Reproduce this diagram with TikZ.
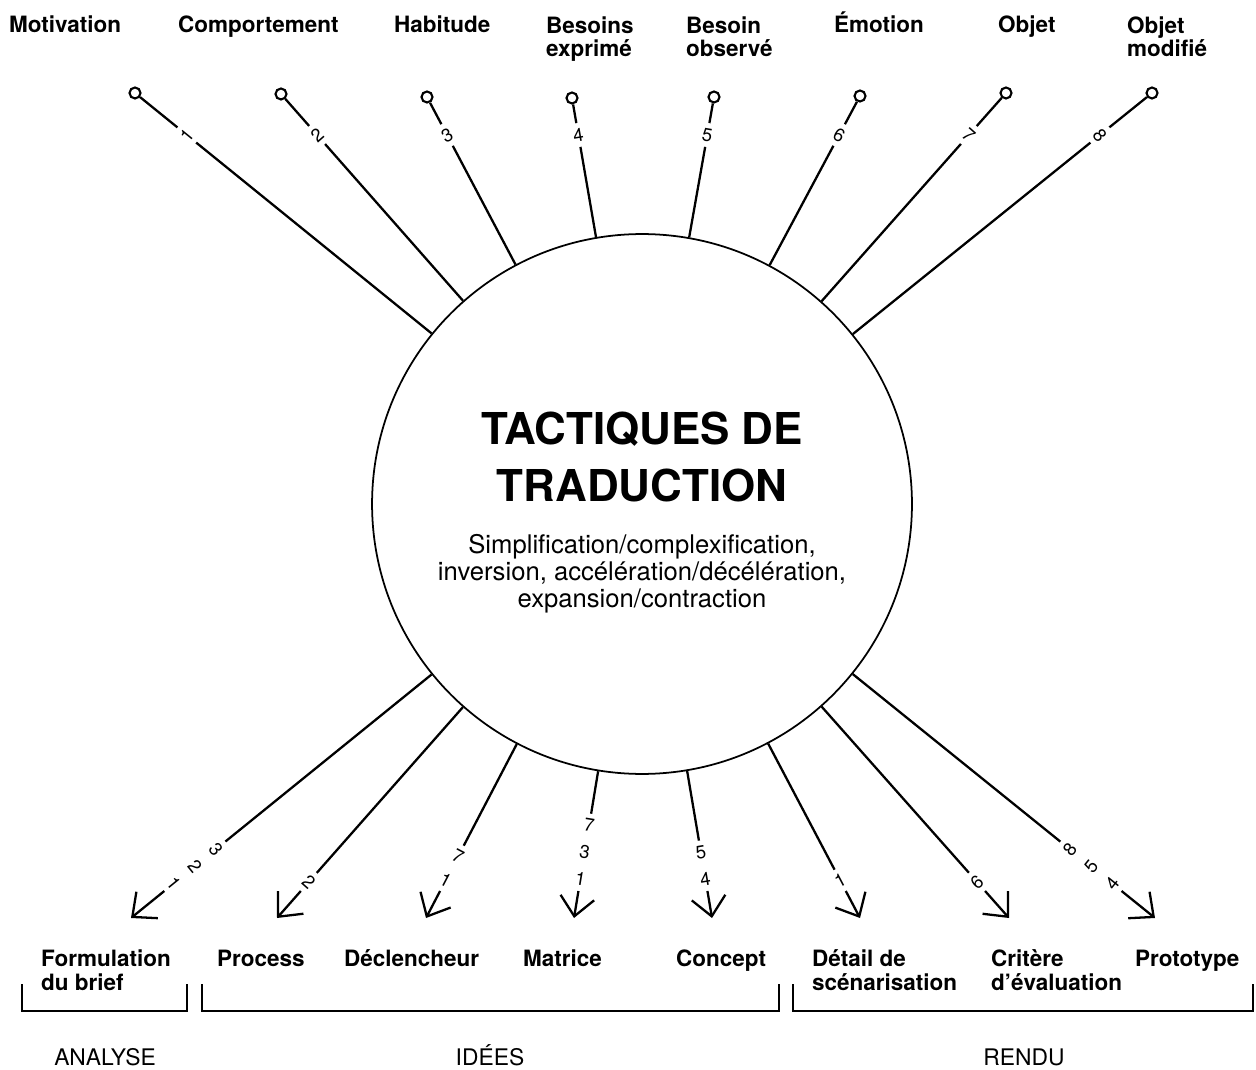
\documentclass[tikz,border=0pt]{standalone}
\usepackage{fontspec}
\setmainfont{TeX Gyre Heros}
\usetikzlibrary{arrows.meta,calc}

\begin{document}
\begin{tikzpicture}[x=0.02cm, y=-0.02cm, line width=1.3pt,
			pin/.style={circle, draw, fill=white, inner sep=0pt, minimum size=0.22cm, line width=1.2pt},
			num/.style={font=\fontsize{10.5}{15.5}\selectfont, inner sep=2.5pt, align=center},
			lab/.style={font=\fontsize{12.8}{13.6}\selectfont\bfseries, align=left, anchor=base west, inner sep=0pt},
			cat/.style={font=\fontsize{13}{15}\selectfont, anchor=base},
			arr/.style={-{Straight Barb[length=0.38cm, width=0.68cm]}}]
			\useasboundingbox (0,0) rectangle (1256,1070);
			
			\node[circle, draw, line width=1pt, minimum size=10.8cm] (tac) at (642,504) {};
			\node[font=\fontsize{25}{32}\selectfont\bfseries, align=center] (titre) at (642,457) {TACTIQUES DE\\TRADUCTION};
			\node[font=\fontsize{14.6}{15.3}\selectfont, align=center] (sous) at (642,574) {Simplification/complexification,\\inversion, accélération/décélération,\\expansion/contraction};
			
			% entrees
			\foreach \i/\px/\py/\lx/\ly/\txt in {1/135/93/8/33/Motivation, 2/281/94/177/33/Comportement, 3/427/97/393/33/Habitude, 4/572/98/545/57/{Besoins\\exprimé},
				5/714/97/685/57/{Besoin\\observé}, 6/860/96/833/33/Émotion, 7/1006/93/997/33/Objet, 8/1152/93/1126/57/{Objet\\modifié}}{
				\pgfmathsetmacro\rr{atan2(504-\py,\px-642)-90}
				\node[pin] (p\i) at (\px,\py) {};
				\node[num, rotate=\rr] (n\i) at ($(p\i.center)!{(135-\py)/(504-\py)}!(tac.center)$) {\i};
				\node[lab] (e\i) at (\lx,\ly) {\txt};
				\draw (p\i) -- (n\i) -- (tac);
			}
			
			% sorties
			\foreach \i/\tx/\st/\lx/\ly/\txt in {1/131/{3\\2\\1}/40/990/{Formulation\\du brief}, 2/277/2/216/966/Process, 3/426/{7\\1}/343/966/Déclencheur,
				4/574/{7\\3\\1}/522/966/Matrice, 5/712/{5\\4}/675/966/Concept, 6/860/1/811/990/{Détail de\\scénarisation},
				7/1009/6/990/990/{Critère\\d’évaluation}, 8/1155/{8\\5\\4}/1134/966/Prototype}{
				\pgfmathsetmacro\rr{atan2(504-918,\tx-642)+90}
				\coordinate (t\i) at (\tx,918);
				\node[num, rotate=\rr, anchor=south] (s\i) at ($(tac.center)!{(891-504)/(918-504)}!(t\i)$) {\st};
				\node[lab] (b\i) at (\lx,\ly) {\txt};
				\draw (tac) -- (s\i);
				\draw[arr] (s\i) -- (t\i);
			}
			
			% groupes
			\draw (22,984) -- (22,1011) -- (187,1011) -- (187,984);
			\draw (202,984) -- (202,1011) -- (779,1011) -- (779,984);
			\draw (793,984) -- (793,1011) -- (1253,1011) -- (1253,984);
			\node[cat] (analyse) at (105,1065) {ANALYSE};
			\node[cat] (idees) at (490,1065) {IDÉES};
			\node[cat] (rendu) at (1024,1065) {RENDU};
		\end{tikzpicture}
\end{document}
